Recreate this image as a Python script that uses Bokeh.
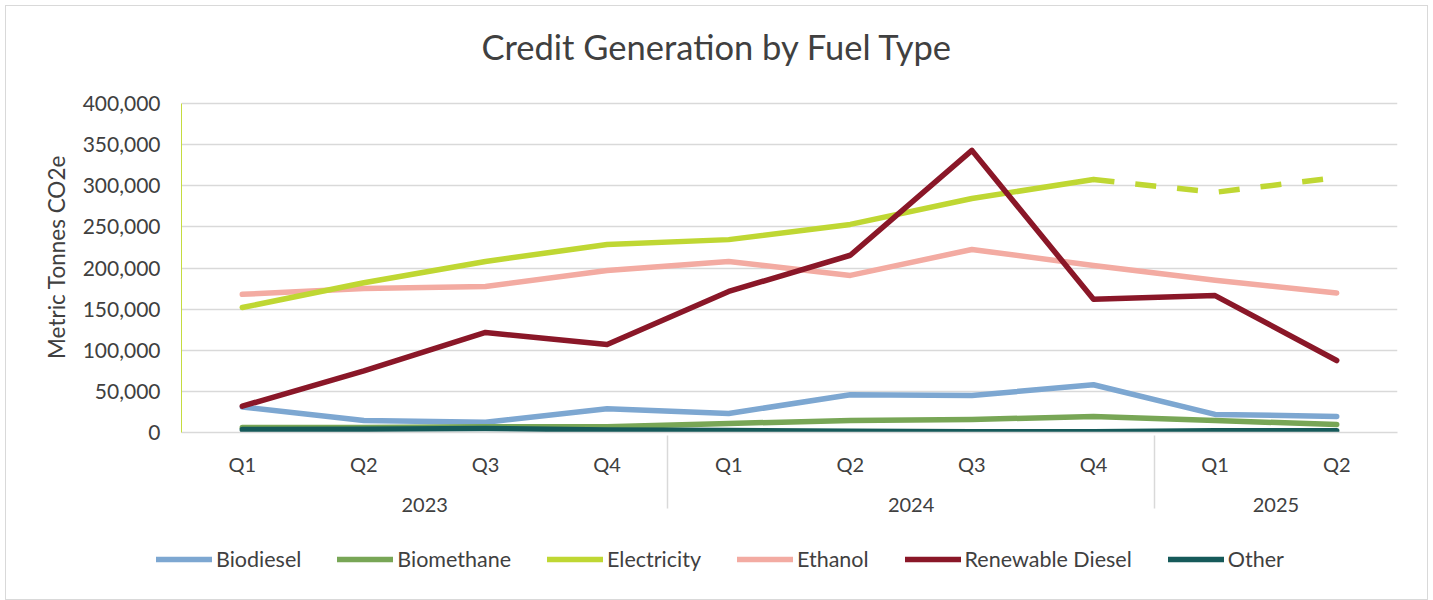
from bokeh.plotting import figure
from bokeh.layouts import column, row
from bokeh.models import FactorRange, Range1d, NumeralTickFormatter, Legend, LegendItem, FixedTicker
from bokeh.embed import file_html
from bokeh.resources import INLINE

years = ["2023", "2023", "2023", "2023", "2024", "2024", "2024", "2024", "2025", "2025"]
quarters = ["Q1", "Q2", "Q3", "Q4", "Q1", "Q2", "Q3", "Q4", "Q1", "Q2"]

biodiesel = [31000, 14500, 12500, 29000, 23000, 46000, 45000, 58000, 22000, 19500]
biomethane = [6000, 6000, 7000, 7000, 11000, 14500, 15800, 19500, 14500, 9700]
electricity = [152000, 182000, 208000, 228500, 234500, 253000, 284500, 307500, 292000, 310000]
ethanol = [168000, 175000, 177500, 197000, 208000, 191000, 222500, 203000, 185000, 169500]
renewable_diesel = [32000, 75000, 121600, 107000, 171500, 215500, 343000, 162000, 166500, 87500]
other = [3500, 4000, 5000, 3000, 2500, 1500, 1000, 1000, 2000, 2000]
electricity_last_actual = 8  # points after this index are shown dashed

series_names = ["Biodiesel", "Biomethane", "Electricity", "Ethanol", "Renewable Diesel", "Other"]
series_values = [biodiesel, biomethane, electricity, ethanol, renewable_diesel, other]
series_colors = ["#7da7d1", "#78a656", "#bfd733", "#f3aba2", "#8a1728", "#165a5a"]

FONT = "Lato"
TXT = "#404040"
LW = 5.5

factors = list(zip(years, quarters))

# axis max is 400,000; the frame extends a little above it to leave room for the title
y_top = 400000 * 351 / 329

x_range = FactorRange(*factors, range_padding=0, factor_padding=0, group_padding=0)
y_range = Range1d(0, y_top)

p = figure(
    x_range=x_range, y_range=y_range,
    frame_width=1216, frame_height=351,
    output_backend="svg", toolbar_location=None,
    min_border_left=175, min_border_right=30, min_border_top=75, min_border_bottom=100,
)
p.outline_line_color = None
p.background_fill_color = "white"

p.title.text = "Credit Generation by Fuel Type"
p.title.text_font = FONT
p.title.text_font_size = "34.5px"
p.title.text_font_style = "normal"
p.title.text_color = TXT
p.title.align = "left"
p.title.offset = 300
p.title.standoff = 30

# y axis
p.yaxis.ticker = FixedTicker(ticks=list(range(0, 400001, 50000)))
p.yaxis.bounds = (0, 400000)
p.yaxis.formatter = NumeralTickFormatter(format="0,0")
p.yaxis.major_tick_line_color = None
p.yaxis.major_tick_out = 0
p.yaxis.minor_tick_line_color = None
p.yaxis.axis_line_color = "#c5dc3f"
p.yaxis.axis_line_width = 1
p.yaxis.major_label_text_font = FONT
p.yaxis.major_label_text_font_size = "21px"
p.yaxis.major_label_text_color = TXT
p.yaxis.major_label_standoff = 21
p.yaxis.axis_label = "Metric Tonnes CO2e"
p.yaxis.axis_label_text_font = FONT
p.yaxis.axis_label_text_font_size = "22.5px"
p.yaxis.axis_label_text_font_style = "normal"
p.yaxis.axis_label_text_color = TXT
p.yaxis.axis_label_standoff = 10

p.ygrid.grid_line_color = "#d9d9d9"
p.ygrid.grid_line_width = 1.5
p.xgrid.grid_line_color = None

# x axis
p.xaxis.axis_line_color = "#d9d9d9"
p.xaxis.axis_line_width = 1.5
p.xaxis.major_tick_line_color = None
p.xaxis.major_tick_out = 0
p.xaxis.minor_tick_line_color = None
p.xaxis.major_label_text_font = FONT
p.xaxis.major_label_text_font_size = "20px"
p.xaxis.major_label_text_color = TXT
p.xaxis.major_label_standoff = 19
p.xaxis.group_text_font = FONT
p.xaxis.group_text_font_size = "20px"
p.xaxis.group_text_font_style = "normal"
p.xaxis.group_text_color = TXT
p.xaxis.separator_line_color = "#d9d9d9"
p.xaxis.separator_line_width = 1.5

kw = dict(line_width=LW, line_cap="round", line_join="round")
p.line(factors, biodiesel, line_color=series_colors[0], **kw)
p.line(factors, biomethane, line_color=series_colors[1], **kw)
p.line(factors, other, line_color=series_colors[5], **kw)
p.line(factors, ethanol, line_color=series_colors[3], **kw)
p.line(factors[:electricity_last_actual], electricity[:electricity_last_actual],
       line_color=series_colors[2], **kw)
p.line(factors[electricity_last_actual - 1:], electricity[electricity_last_actual - 1:],
       line_color=series_colors[2], line_width=LW, line_dash="21 21")
p.line(factors, renewable_diesel, line_color=series_colors[4], **kw)

# legend strip underneath (hidden copies of the series provide the legend swatches)
pl = figure(width=1421, height=67, x_range=x_range, y_range=y_range,
            x_axis_type=None, y_axis_type=None, min_border=0,
            output_backend="svg", toolbar_location=None)
pl.outline_line_color = None
pl.grid.visible = False
items = []
for name, vals, col in zip(series_names, series_values, series_colors):
    r = pl.line(factors, vals, line_color=col, visible=False, **kw)
    items.append(LegendItem(label=name, renderers=[r]))

legend = Legend(
    items=items,
    orientation="horizontal",
    location=(150, 27),
    label_text_font=FONT,
    label_text_font_size="21.5px",
    label_text_color=TXT,
    glyph_width=56,
    glyph_height=22,
    label_standoff=4,
    spacing=36,
    padding=0,
    margin=0,
    border_line_color=None,
    background_fill_alpha=0,
    inactive_fill_alpha=0,
    click_policy="none",
)
pl.add_layout(legend, "center")

layout = column(p, row(pl, spacing=0), spacing=0)
layout.styles = {"border": "1px solid #d9d9d9", "margin-left": "5px", "margin-top": "5px"}

open("out.html", "w").write(file_html(layout, INLINE))
